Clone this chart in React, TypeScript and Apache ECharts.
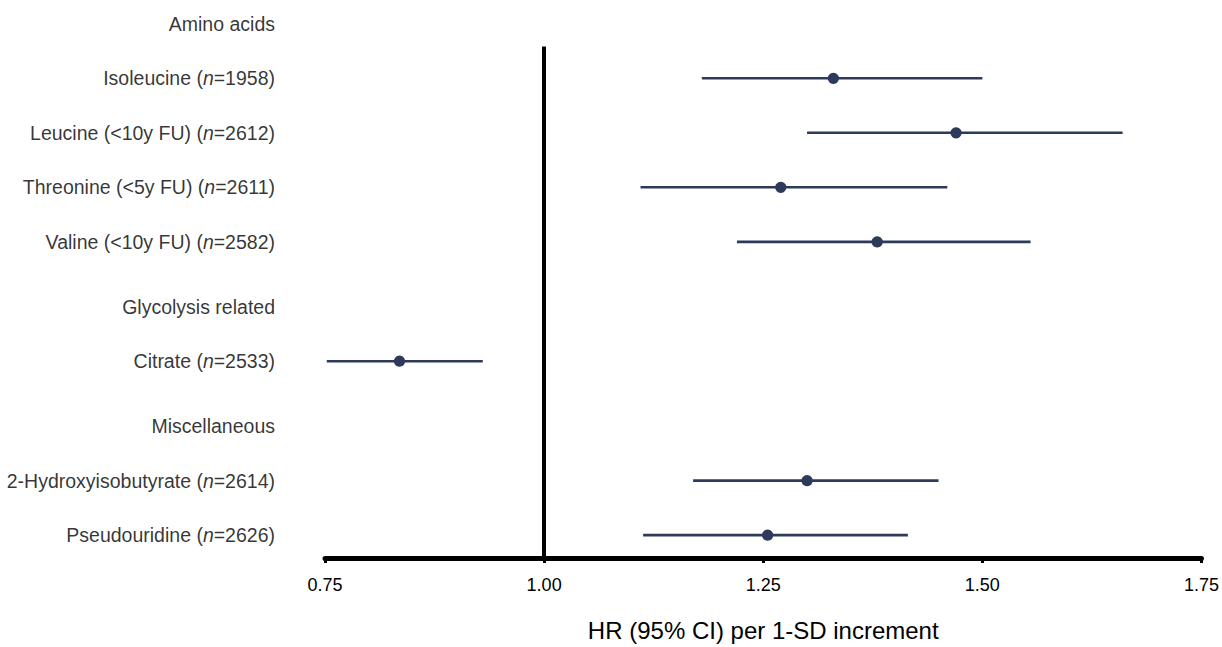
import React, { useEffect, useRef } from "react";
import * as echarts from "echarts";

const categories = [
  "Amino acids",
  "Isoleucine",
  "Leucine (<10y FU)",
  "Threonine (<5y FU)",
  "Valine (<10y FU)",
  "Glycolysis related",
  "Citrate",
  "Miscellaneous",
  "2-Hydroxyisobutyrate",
  "Pseudouridine",
];
const sampleSizes: (number | null)[] = [null, 1958, 2612, 2611, 2582, null, 2533, null, 2614, 2626];
const hrValues: (number | null)[] = [null, 1.33, 1.47, 1.27, 1.38, null, 0.835, null, 1.3, 1.255];
const ciLower: (number | null)[] = [null, 1.18, 1.3, 1.11, 1.22, null, 0.752, null, 1.17, 1.113];
const ciUpper: (number | null)[] = [null, 1.5, 1.66, 1.46, 1.555, null, 0.93, null, 1.45, 1.415];
const xTicks = [0.75, 1.0, 1.25, 1.5, 1.75];

const FONT = "'Liberation Sans', Arial, Helvetica, sans-serif";
const NAVY = "#2e3a5b";

export default function App() {
  const ref = useRef<HTMLDivElement>(null);

  useEffect(() => {
    document.body.style.margin = "0";
    if (!ref.current) return;
    const chart = echarts.init(ref.current, null, { renderer: "svg" });

    // row positions: one unit per row, small extra gap before each later section header
    const positions: number[] = [];
    let p = 0;
    categories.forEach((_, i) => {
      const isHeader = sampleSizes[i] === null;
      if (isHeader && i > 0) p += 0.19;
      positions.push(p);
      p += 1;
    });
    const yMin = positions[1] - 79 / 55;
    const yMax = positions[positions.length - 1] + 0.42;

    const ciData = categories
      .map((_, i) => (hrValues[i] === null ? null : [ciLower[i], ciUpper[i], positions[i], hrValues[i]]))
      .filter((d) => d !== null);

    const labelData = categories.map((c, i) => {
      const n = sampleSizes[i];
      return {
        value: [xTicks[0], positions[i]],
        label: {
          formatter: n === null ? `{r|${c}}` : `{r|${c} (}{i|n}{r|=${n})}`,
        },
      };
    });

    const option: any = {
      animation: false,
      backgroundColor: "#ffffff",
      grid: { left: 325, right: 19, top: 0, bottom: 84, containLabel: false },
      xAxis: {
        type: "value",
        min: 0.75,
        max: 1.75,
        interval: 0.25,
        name: "HR (95% CI) per 1-SD increment",
        nameLocation: "middle",
        nameGap: 60,
        nameTextStyle: { fontFamily: FONT, fontSize: 24, color: "#000" },
        axisLine: { show: true, onZero: false, lineStyle: { color: "#000", width: 5 } },
        axisTick: { show: true, length: 5, lineStyle: { color: "#000", width: 3 } },
        axisLabel: {
          margin: 18,
          fontFamily: FONT,
          fontSize: 18,
          color: "#000",
          formatter: (v: number) => v.toFixed(2),
        },
        splitLine: { show: false },
      },
      yAxis: {
        type: "value",
        inverse: true,
        min: yMin,
        max: yMax,
        show: false,
      },
      series: [
        {
          type: "custom",
          data: ciData,
          renderItem: (params: any, api: any) => {
            const lo = api.coord([api.value(0), api.value(2)]);
            const hi = api.coord([api.value(1), api.value(2)]);
            const pt = api.coord([api.value(3), api.value(2)]);
            return {
              type: "group",
              children: [
                {
                  type: "line",
                  shape: { x1: lo[0], y1: lo[1], x2: hi[0], y2: hi[1] },
                  style: { stroke: NAVY, lineWidth: 2.6 },
                },
                {
                  type: "circle",
                  shape: { cx: pt[0], cy: pt[1], r: 5.6 },
                  style: { fill: NAVY },
                },
              ],
            };
          },
          markLine: {
            silent: true,
            symbol: ["none", "none"],
            lineStyle: { color: "#000", width: 4, type: "solid" },
            label: { show: false },
            data: [
              [
                { coord: [1.0, positions[1] - 32 / 55] },
                { coord: [1.0, yMax] },
              ],
            ],
          },
          z: 3,
        },
        {
          type: "scatter",
          data: labelData,
          symbolSize: 0,
          silent: true,
          label: {
            show: true,
            position: "left",
            distance: 50,
            align: "right",
            rich: {
              r: { fontFamily: FONT, fontSize: 19.5, color: "#000" },
              i: { fontFamily: FONT, fontSize: 19.5, color: "#000", fontStyle: "italic" },
            },
          },
        },
      ],
    };

    chart.setOption(option);
    return () => chart.dispose();
  }, []);

  return <div ref={ref} style={{ width: 1222, height: 647 }} />;
}
